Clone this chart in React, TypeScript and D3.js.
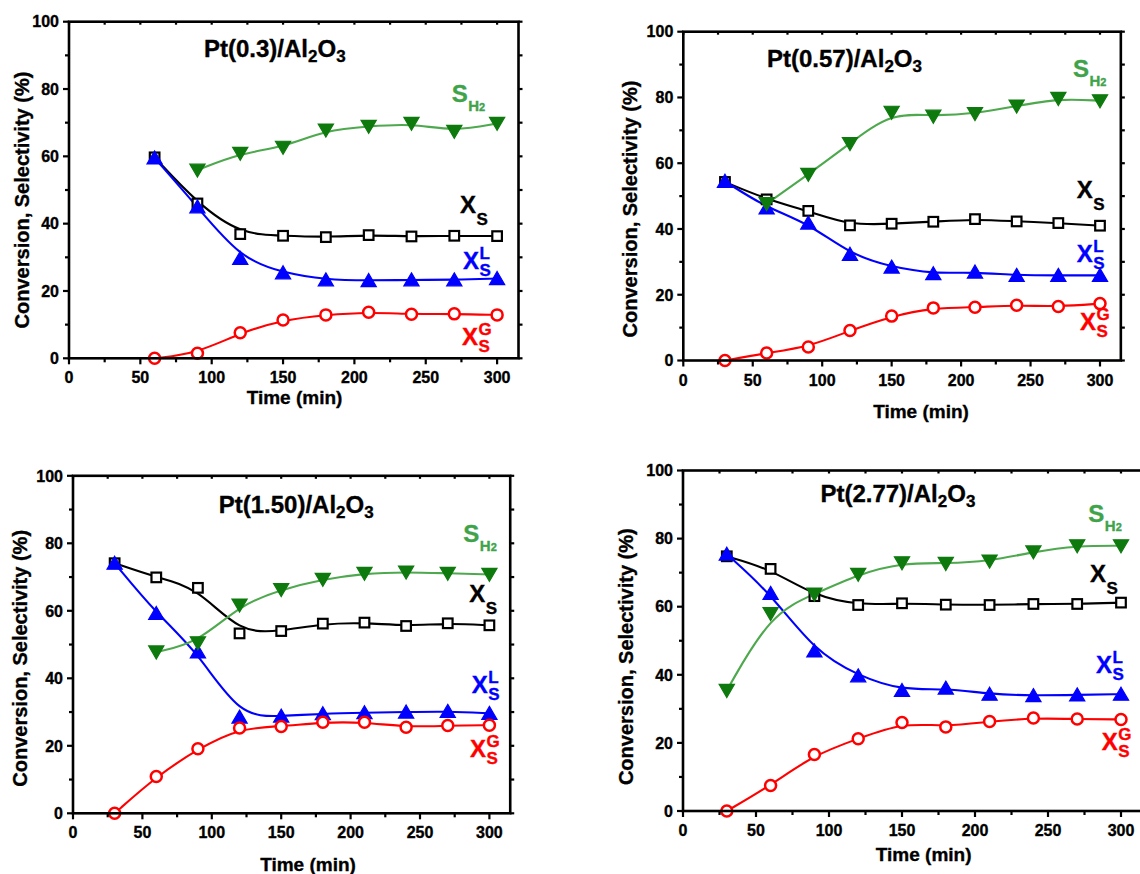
import React from "react";
import * as d3 from "d3";

// Sampling times (min)
const timeFrom60 = [60, 90, 120, 150, 180, 210, 240, 270, 300];
const timeFrom30 = [30, 60, 90, 120, 150, 180, 210, 240, 270, 300];
const timeFrom90 = [90, 120, 150, 180, 210, 240, 270, 300];

// Pt(0.3)/Al2O3
const pt03Total = [59.7, 46.0, 36.9, 36.4, 36.0, 36.6, 36.2, 36.4, 36.3];
const pt03Liquid = [59.5, 45.0, 29.7, 25.4, 23.3, 23.1, 23.3, 23.3, 23.7];
const pt03Gas = [0, 1.5, 7.6, 11.4, 12.9, 13.7, 13.1, 13.2, 12.9];
const pt03H2 = [55.9, 60.9, 62.7, 67.8, 68.9, 69.8, 67.4, 69.8];

// Pt(0.57)/Al2O3
const pt057Total = [54.3, 49.0, 45.5, 41.1, 41.6, 42.2, 43.0, 42.3, 41.8, 41.0];
const pt057Liquid = [54.5, 46.4, 41.8, 32.3, 28.4, 26.4, 26.9, 25.9, 25.9, 25.9];
const pt057Gas = [0, 2.3, 4.1, 9.1, 13.5, 16.0, 16.2, 16.8, 16.4, 17.3];
const pt057H2 = [47.7, 56.6, 66.0, 75.5, 74.3, 75.1, 77.4, 79.7, 79.0];

// Pt(1.50)/Al2O3
const pt150Total = [74.1, 69.9, 66.8, 53.3, 54.0, 56.2, 56.5, 55.5, 56.3, 55.7];
const pt150Liquid = [74.1, 59.2, 47.8, 28.5, 28.8, 29.5, 29.8, 30.0, 30.2, 29.6];
const pt150Gas = [0, 10.9, 19.1, 25.3, 25.7, 27.0, 27.0, 25.5, 26.0, 26.1];
const pt150H2 = [47.8, 50.5, 61.7, 66.3, 69.3, 71.1, 71.5, 71.1, 70.8];

// Pt(2.77)/Al2O3
const pt277Total = [74.8, 71.1, 63.1, 60.5, 61.0, 60.6, 60.5, 60.8, 60.8, 61.2];
const pt277Liquid = [75.4, 63.9, 47.0, 39.7, 35.4, 36.1, 34.3, 33.9, 34.1, 34.3];
const pt277Gas = [0, 7.5, 16.6, 21.2, 26.0, 24.7, 26.3, 27.3, 27.0, 26.9];
const pt277H2 = [35.4, 58.0, 63.7, 69.5, 72.9, 72.7, 73.4, 76.1, 77.9, 77.9];

// Axis ticks
const xTickValues = [0, 50, 100, 150, 200, 250, 300];
const yTickValues = [0, 20, 40, 60, 80, 100];
const X_MAX = 315;

const FONT = "'Liberation Sans', Arial, Helvetica, sans-serif";
const BLACK = "#000000";
const BLUE = "#0000ff";
const RED = "#ff0000";
const GREEN_LINE = "#4ea84e";
const GREEN_MARK = "#0e7a0e";
const GREEN_TEXT = "#3fa34a";
const HEAVY = 0.35; // extra stroke to thicken the bold glyphs

type Pt = { t: number; v: number };
const zip = (t: number[], v: number[]): Pt[] => t.map((tt, i) => ({ t: tt, v: v[i] }));

interface PanelSpec {
  loading: string;
  total: Pt[];
  liquid: Pt[];
  gas: Pt[];
  h2: Pt[];
  x0: number;
  k: number;
  yTop: number;
  yBot: number;
  titlePos: [number, number];
  xTitlePos: [number, number];
  yTitlePos: [number, number];
  lblH2: [number, number];
  lblTotal: [number, number];
  lblLiquid: [number, number];
  lblGas: [number, number];
}

const panels: PanelSpec[] = [
  {
    loading: "0.3",
    total: zip(timeFrom60, pt03Total),
    liquid: zip(timeFrom60, pt03Liquid),
    gas: zip(timeFrom60, pt03Gas),
    h2: zip(timeFrom90, pt03H2),
    x0: 69, k: 1.427, yTop: 21.7, yBot: 358.3,
    titlePos: [204, 56.7],
    xTitlePos: [294.5, 404],
    yTitlePos: [28.5, 200],
    lblH2: [451.7, 101.7],
    lblTotal: [460, 213.3],
    lblLiquid: [463, 269],
    lblGas: [462, 345],
  },
  {
    loading: "0.57",
    total: zip(timeFrom30, pt057Total),
    liquid: zip(timeFrom30, pt057Liquid),
    gas: zip(timeFrom30, pt057Gas),
    h2: zip(timeFrom60, pt057H2),
    x0: 683.3, k: 1.389, yTop: 31.7, yBot: 360.5,
    titlePos: [767, 66.7],
    xTitlePos: [921, 418],
    yTitlePos: [636.7, 209],
    lblH2: [1073, 76.7],
    lblTotal: [1076.7, 198.3],
    lblLiquid: [1076.7, 261.7],
    lblGas: [1080, 330],
  },
  {
    loading: "1.50",
    total: zip(timeFrom30, pt150Total),
    liquid: zip(timeFrom30, pt150Liquid),
    gas: zip(timeFrom30, pt150Gas),
    h2: zip(timeFrom60, pt150H2),
    x0: 73, k: 1.388, yTop: 475.8, yBot: 813.3,
    titlePos: [218.7, 512.7],
    xTitlePos: [308, 871],
    yTitlePos: [26.5, 658.3],
    lblH2: [463.3, 541.7],
    lblTotal: [469.3, 601.7],
    lblLiquid: [471.7, 693.3],
    lblGas: [470, 756.7],
  },
  {
    loading: "2.77",
    total: zip(timeFrom30, pt277Total),
    liquid: zip(timeFrom30, pt277Liquid),
    gas: zip(timeFrom30, pt277Gas),
    h2: zip(timeFrom30, pt277H2),
    x0: 683, k: 1.46, yTop: 470.5, yBot: 811,
    titlePos: [820.4, 501.7],
    xTitlePos: [923.7, 861],
    yTitlePos: [633.3, 656.7],
    lblH2: [1088.3, 521.7],
    lblTotal: [1090, 581.7],
    lblLiquid: [1096, 673.3],
    lblGas: [1101.7, 750],
  },
];

function StackedLabel({ x, y, sup, sub, color }: { x: number; y: number; sup?: string; sub: string; color: string }) {
  const subX = x + 16.5;
  return (
    <g fill={color} stroke={color} strokeWidth={HEAVY} fontFamily={FONT} fontWeight="bold">
      <text x={x} y={y} fontSize={24}>X</text>
      {sup ? (
        <>
          <text x={subX} y={y - 10} fontSize={17}>{sup}</text>
          <text x={subX} y={y + 7} fontSize={17}>{sub}</text>
        </>
      ) : (
        <text x={subX} y={y + 12} fontSize={17}>{sub}</text>
      )}
    </g>
  );
}

function Panel({ p }: { p: PanelSpec }) {
  const xR = p.x0 + X_MAX * p.k;
  const x = d3.scaleLinear().domain([0, X_MAX]).range([p.x0, xR]);
  const y = d3.scaleLinear().domain([0, 100]).range([p.yBot, p.yTop]);
  const line = d3
    .line<Pt>()
    .x((d) => x(d.t))
    .y((d) => y(d.v))
    .curve(d3.curveBasis);

  const xMinor = d3.range(0, 301, 25);
  const yMinor = d3.range(0, 101, 10);

  return (
    <g>
      {/* curves */}
      <path d={line(p.total) || ""} fill="none" stroke={BLACK} strokeWidth={2.1} />
      <path d={line(p.liquid) || ""} fill="none" stroke={BLUE} strokeWidth={2.1} />
      <path d={line(p.gas) || ""} fill="none" stroke={RED} strokeWidth={2.1} />
      <path d={line(p.h2) || ""} fill="none" stroke={GREEN_LINE} strokeWidth={2.1} />

      {/* symbols */}
      {p.total.map((d, i) => (
        <rect key={"s" + i} x={x(d.t) - 4.8} y={y(d.v) - 4.8} width={9.6} height={9.6}
          fill="#fff" stroke={BLACK} strokeWidth={2.2} />
      ))}
      {p.liquid.map((d, i) => (
        <path key={"u" + i} transform={`translate(${x(d.t)},${y(d.v)})`}
          d="M0,-7L7.6,6L-7.6,6Z" fill={BLUE} stroke={BLUE} strokeWidth={1.2} />
      ))}
      {p.gas.map((d, i) => (
        <circle key={"c" + i} cx={x(d.t)} cy={y(d.v)} r={5.5}
          fill="#fff" stroke={RED} strokeWidth={2.5} />
      ))}
      {p.h2.map((d, i) => (
        <path key={"d" + i} transform={`translate(${x(d.t)},${y(d.v)})`}
          d="M-7.6,-6L7.6,-6L0,7Z" fill={GREEN_MARK} stroke={GREEN_MARK} strokeWidth={1.2} />
      ))}

      {/* frame */}
      <rect x={p.x0} y={p.yTop} width={xR - p.x0} height={p.yBot - p.yTop}
        fill="none" stroke={BLACK} strokeWidth={2.6} />

      {/* ticks */}
      {xMinor.map((t) => (
        <g key={"xt" + t}>
          <line x1={x(t)} x2={x(t)} y1={p.yBot} y2={p.yBot + (t % 50 === 0 ? 6 : 4)} stroke={BLACK} strokeWidth={2.2} />
          <line x1={x(t)} x2={x(t)} y1={p.yTop} y2={p.yTop + 3} stroke={BLACK} strokeWidth={2.2} />
        </g>
      ))}
      {yMinor.map((v) => (
        <g key={"yt" + v}>
          <line x1={p.x0} x2={p.x0 - (v % 20 === 0 ? 6 : 4)} y1={y(v)} y2={y(v)} stroke={BLACK} strokeWidth={2.2} />
          <line x1={xR} x2={xR + 4} y1={y(v)} y2={y(v)} stroke={BLACK} strokeWidth={2.2} />
        </g>
      ))}

      {/* tick labels */}
      <g fontFamily={FONT} fontWeight="bold" fontSize={16} fill={BLACK} stroke={BLACK} strokeWidth={HEAVY}>
        {xTickValues.map((t) => (
          <text key={"xl" + t} x={x(t)} y={p.yBot + 25} textAnchor="middle">{t}</text>
        ))}
        {yTickValues.map((v) => (
          <text key={"yl" + v} x={p.x0 - 10} y={y(v)} dy="0.36em" textAnchor="end">{v}</text>
        ))}
      </g>

      {/* axis titles */}
      <g fontFamily={FONT} fontWeight="bold" fill={BLACK} stroke={BLACK} strokeWidth={HEAVY}>
        <text x={p.xTitlePos[0]} y={p.xTitlePos[1]} textAnchor="middle" fontSize={19}>Time (min)</text>
        <text transform={`translate(${p.yTitlePos[0]},${p.yTitlePos[1]}) rotate(-90)`} textAnchor="middle"
          fontSize={20}>Conversion, Selectivity (%)</text>

        {/* catalyst title */}
        <text x={p.titlePos[0]} y={p.titlePos[1]} fontSize={24}>
          <tspan>{`Pt(${p.loading})/Al`}</tspan>
          <tspan fontSize={17} dy={5}>2</tspan>
          <tspan fontSize={24} dy={-5}>O</tspan>
          <tspan fontSize={17} dy={5}>3</tspan>
        </text>
      </g>

      {/* series labels */}
      <g fill={GREEN_TEXT} stroke={GREEN_TEXT} strokeWidth={HEAVY} fontFamily={FONT} fontWeight="bold">
        <text x={p.lblH2[0]} y={p.lblH2[1]} fontSize={24}>S</text>
        <text x={p.lblH2[0] + 16.5} y={p.lblH2[1] + 9} fontSize={15}>
          H<tspan fontSize={11}>2</tspan>
        </text>
      </g>
      <StackedLabel x={p.lblTotal[0]} y={p.lblTotal[1]} sub="S" color={BLACK} />
      <StackedLabel x={p.lblLiquid[0]} y={p.lblLiquid[1]} sup="L" sub="S" color={BLUE} />
      <StackedLabel x={p.lblGas[0]} y={p.lblGas[1]} sup="G" sub="S" color={RED} />
    </g>
  );
}

export default function App() {
  return (
    <svg width={1140} height={874} viewBox="0 0 1140 874"
      style={{ position: "absolute", left: 0, top: 0, background: "#fff" }}>
      <rect width={1140} height={874} fill="#fff" />
      {panels.map((p) => (
        <Panel key={p.loading} p={p} />
      ))}
    </svg>
  );
}
